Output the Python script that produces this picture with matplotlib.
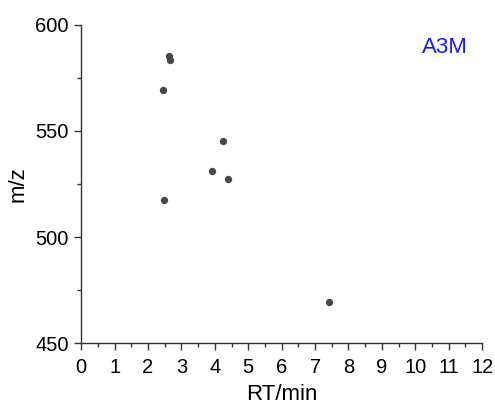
import matplotlib
matplotlib.use("Agg")
import matplotlib.pyplot as plt
from matplotlib.ticker import MultipleLocator

plt.rcParams['font.family'] = ['Liberation Sans', 'DejaVu Sans']

rt = [2.63, 2.66, 2.46, 4.25, 3.92, 4.40, 2.49, 7.43]
mz = [585.4, 583.5, 569.3, 545.3, 531.1, 527.4, 517.5, 469.3]
label = "A3M"

fig = plt.figure(figsize=(4.95, 4.08), dpi=100)
ax = fig.add_axes([0.164, 0.159, 0.810, 0.780])
ax.scatter(rt, mz, s=28, color='#484848', linewidths=0, zorder=3)

ax.set_xlim(0, 12)
ax.set_ylim(450, 600)
ax.xaxis.set_major_locator(MultipleLocator(1))
ax.xaxis.set_minor_locator(MultipleLocator(0.5))
ax.yaxis.set_major_locator(MultipleLocator(50))
ax.yaxis.set_minor_locator(MultipleLocator(25))
for s in ['top', 'right']:
    ax.spines[s].set_visible(False)
for s in ['left', 'bottom']:
    ax.spines[s].set_color('#333333')
    ax.spines[s].set_linewidth(1.0)
ax.tick_params(which='major', length=5, width=1, color='#333333', labelsize=14.5,
               direction='out', pad=4)
ax.tick_params(axis='x', which='major', pad=6)
ax.tick_params(which='minor', length=3, width=1, color='#333333', direction='out')
ax.set_xlabel("RT/min", fontsize=16, labelpad=5)
ax.set_ylabel("m/z", fontsize=16, labelpad=5)
ax.text(0.965, 0.93, label, transform=ax.transAxes, color='#1a1aff', fontsize=16,
        ha='right', va='center')

fig.savefig("out.png", dpi=100)
